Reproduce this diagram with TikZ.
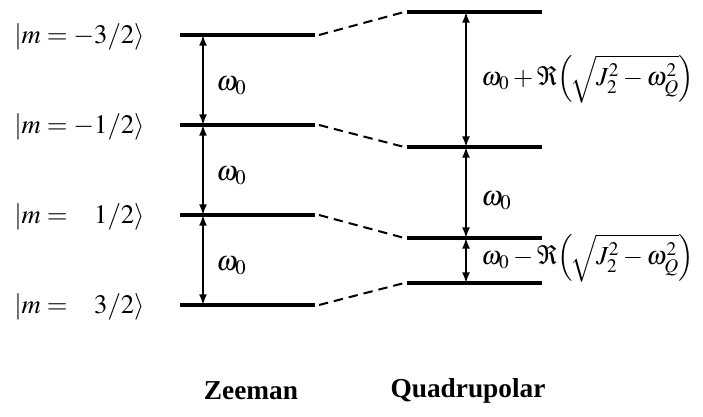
\documentclass[tikz,border=0pt]{standalone}
\usepackage{mathptmx}
\usepackage{fontspec}
\setmainfont{Liberation Serif}
\usetikzlibrary{arrows.meta}

\begin{document}
\begin{tikzpicture}[x=0.75pt, y=-0.75pt,
    level/.style={line width=2.8pt},
    shiftline/.style={line width=1.5pt, dash pattern=on 7pt off 4.5pt},
    gap/.style={{Latex[length=8pt,width=6pt]}-{Latex[length=8pt,width=6pt]}, line width=1.4pt},
    every node/.style={font=\fontsize{21}{25}\selectfont, inner sep=0pt}]
    \useasboundingbox (0,0) rectangle (703,417);

    % Zeeman
    \foreach \i/\y in {1/35,2/125,3/215,4/305} {
        \coordinate (zl\i) at (180,\y);
        \coordinate (zr\i) at (315,\y);
        \coordinate (za\i) at (203,\y);
        \draw[level] (zl\i) -- (zr\i);
    }
    \draw[gap] (za1) -- (za2);
    \draw[gap] (za2) -- (za3);
    \draw[gap] (za3) -- (za4);
    \node[anchor=west] (w1) at (216,86) {$\omega_0$};
    \node[anchor=west] (w2) at (216,176) {$\omega_0$};
    \node[anchor=west] (w3) at (216,266) {$\omega_0$};

    % Quadrupolar
    \foreach \i/\y in {1/12,2/147,3/238,4/283} {
        \coordinate (ql\i) at (407,\y);
        \coordinate (qr\i) at (542,\y);
        \coordinate (qa\i) at (466,\y);
        \draw[level] (ql\i) -- (qr\i);
    }
    \draw[gap] (qa1) -- (qa2);
    \draw[gap] (qa2) -- (qa3);
    \draw[gap] (qa3) -- (qa4);
    \node[anchor=west, font=\fontsize{19.5}{23}\selectfont] (wp) at (481,79)
        {$\omega_0+\Re\!\left(\!\sqrt{J_2^2-\omega_Q^2}\right)$};
    \node[anchor=west] (wm) at (481,201) {$\omega_0$};
    \node[anchor=west, font=\fontsize{19.5}{23}\selectfont] (wn) at (481,258)
        {$\omega_0-\Re\!\left(\!\sqrt{J_2^2-\omega_Q^2}\right)$};

    % links
    \foreach \i in {1,...,4}
        \draw[shiftline] ([xshift=3pt]zr\i) -- ([xshift=-2pt]ql\i);

    % states
    \node[anchor=west, font=\fontsize{20}{24}\selectfont] (k1) at (14,37) {$\left|m=-3/2\right\rangle$};
    \node[anchor=west, font=\fontsize{20}{24}\selectfont] (k2) at (14,127) {$\left|m=-1/2\right\rangle$};
    \node[anchor=west, font=\fontsize{20}{24}\selectfont] (k3) at (14,217) {$\left|m=\phantom{-}1/2\right\rangle$};
    \node[anchor=west, font=\fontsize{20}{24}\selectfont] (k4) at (14,307) {$\left|m=\phantom{-}3/2\right\rangle$};

    % titles
    \node[font=\fontsize{20.5}{24}\selectfont\bfseries] (zee) at (251,391) {Zeeman};
    \node[font=\fontsize{20.5}{24}\selectfont\bfseries] (quad) at (468,391) {Quadrupolar};
\end{tikzpicture}
\end{document}
